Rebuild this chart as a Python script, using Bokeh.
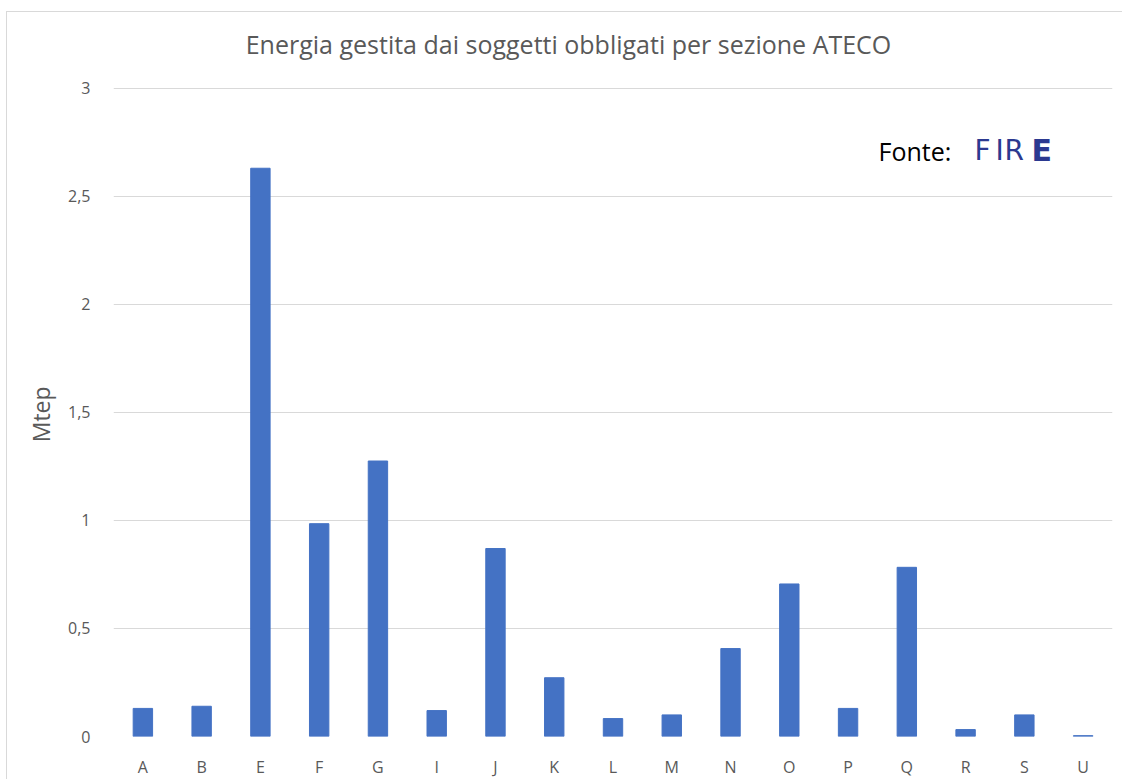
from bokeh.plotting import figure
from bokeh.models import FactorRange, Range1d, FixedTicker, Label
from bokeh.embed import file_html
from bokeh.resources import INLINE

categories = ["A", "B", "E", "F", "G", "I", "J", "K", "L", "M", "N", "O", "P", "Q", "R", "S", "U"]
values = [0.13, 0.14, 2.63, 0.985, 1.275, 0.12, 0.87, 0.272, 0.083, 0.10, 0.407, 0.706, 0.13, 0.783, 0.032, 0.10, 0.004]
y_ticks = [0, 0.5, 1, 1.5, 2, 2.5, 3]
y_tick_labels = ["0", "0,5", "1", "1,5", "2", "2,5", "3"]
title_text = "Energia gestita dai soggetti obbligati per sezione ATECO"
y_label = "Mtep"

FONT = "Open Sans"
GRAY = "#595959"
LOGO = "#2b3990"

# frame extends above the top tick so that the title and logo fit inside it
Y_TOP = 3 * (738 - 14) / 650

p = figure(
    width=1116, height=768,
    x_range=FactorRange(*categories, range_padding=0),
    y_range=Range1d(0, Y_TOP),
    output_backend="svg", toolbar_location=None,
    min_border_left=106, min_border_right=11, min_border_top=2, min_border_bottom=42,
)
p.styles = {"margin-left": "6px", "margin-top": "11px",
            "border-left": "1px solid #d9d9d9", "border-top": "1px solid #d9d9d9"}
p.outline_line_color = None

p.vbar(x=categories, top=values, width=0.33, color="#4472C4")

p.yaxis.ticker = FixedTicker(ticks=y_ticks)
p.yaxis.major_label_overrides = {t: l for t, l in zip(y_ticks, y_tick_labels)}
for ax in (p.xaxis[0], p.yaxis[0]):
    ax.axis_line_color = None
    ax.major_tick_line_color = None
    ax.minor_tick_line_color = None
    ax.major_label_text_color = GRAY
    ax.major_label_text_font = FONT
    ax.major_label_text_font_size = "16px"
p.xaxis.major_label_standoff = 13
p.yaxis.major_label_standoff = 17

# trailing non-breaking spaces shift the rotated label down to the centre of the 0-3 span
p.yaxis.axis_label = y_label + "\u00a0" * 13
p.yaxis.axis_label_text_font = FONT
p.yaxis.axis_label_text_font_style = "normal"
p.yaxis.axis_label_text_font_size = "23px"
p.yaxis.axis_label_text_color = GRAY
p.yaxis.axis_label_standoff = 8

p.xgrid.grid_line_color = None
p.ygrid.grid_line_color = "#d9d9d9"
p.ygrid.grid_line_width = 1

title = Label(x=455, y=693, x_units="screen", y_units="screen", text=title_text,
              text_font=FONT, text_font_size="25px", text_color=GRAY,
              text_align="center", text_baseline="middle")
p.add_layout(title, "center")

fonte = Label(x=765, y=586, x_units="screen", y_units="screen", text="Fonte:",
              text_font=FONT, text_font_size="25px", text_color="#000000",
              text_baseline="middle")
p.add_layout(fonte, "center")
for letter, lx, size, style in (("F", 861, "28px", "normal"), ("I", 882, "28px", "normal"),
                                 ("R", 891, "28px", "normal"), ("E", 918, "30px", "bold")):
    p.add_layout(Label(x=lx, y=586, x_units="screen", y_units="screen", text=letter,
                       text_font="DejaVu Sans", text_font_size=size, text_font_style=style,
                       text_color=LOGO, text_baseline="middle"), "center")

open("out.html", "w").write(file_html(p, INLINE))
